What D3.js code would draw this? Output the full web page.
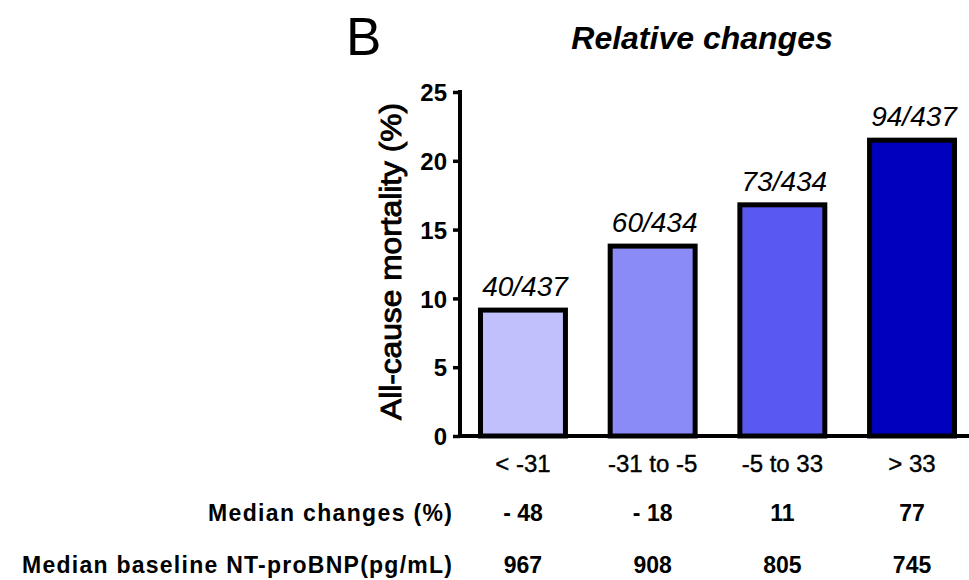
<!DOCTYPE html>
<html>
<head>
<meta charset="utf-8">
<script src="https://cdn.jsdelivr.net/npm/d3@7"></script>
<style>
  body { margin: 0; background: #fff; }
  svg { font-family: "Liberation Sans", Arial, sans-serif; }
</style>
</head>
<body>
<div id="chart"></div>
<script>
const categories = ["< -31", "-31 to -5", "-5 to 33", "> 33"];
const mortality = [9.15, 13.8, 16.8, 21.5];
const counts = ["40/437", "60/434", "73/434", "94/437"];
const medianChanges = ["- 48", "- 18", "11", "77"];
const medianBaseline = ["967", "908", "805", "745"];
const barColors = ["#c0c0fc", "#8b8bf8", "#5959f2", "#0000bd"];
const yTicks = [0, 5, 10, 15, 20, 25];

const W = 969, H = 580;
const svg = d3.select("#chart").append("svg")
  .attr("width", W).attr("height", H);

const x = d3.scaleBand()
  .domain(categories)
  .range([460, 975])
  .paddingInner(0.345)
  .paddingOuter(0.158);

const y = d3.scaleLinear().domain([0, 25]).range([436, 92]);

// panel letter + title
svg.append("text").attr("x", 346).attr("y", 55)
  .style("font-size", "53px").text("B");
svg.append("text").attr("x", 702).attr("y", 49)
  .attr("text-anchor", "middle")
  .style("font-size", "32px").style("font-weight", "bold").style("font-style", "italic")
  .text("Relative changes");

// bars
svg.append("g").selectAll("rect")
  .data(mortality)
  .join("rect")
  .attr("x", (d, i) => x(categories[i]))
  .attr("y", d => y(d))
  .attr("width", x.bandwidth())
  .attr("height", d => y(0) - y(d))
  .attr("fill", (d, i) => barColors[i])
  .attr("stroke", "#000")
  .attr("stroke-width", 5);

// count labels
svg.append("g").selectAll("text")
  .data(mortality)
  .join("text")
  .attr("x", (d, i) => x(categories[i]) + x.bandwidth() / 2 + 2)
  .attr("y", d => y(d) - 14)
  .attr("text-anchor", "middle")
  .style("font-size", "28px").style("font-style", "italic")
  .text((d, i) => counts[i]);

// y axis
const yAxis = svg.append("g")
  .attr("transform", "translate(460,0)")
  .call(d3.axisLeft(y).tickValues(yTicks).tickSize(7).tickSizeOuter(0).tickPadding(6));
yAxis.select(".domain").attr("stroke-width", 4).attr("d", `M0,${y(25) - 2}V${y(0) + 2}`);
yAxis.selectAll(".tick line").attr("stroke-width", 3.5);
yAxis.selectAll(".tick text")
  .style("font-size", "24px").style("font-weight", "bold")
  .style("font-family", "Liberation Sans, Arial, sans-serif")
  .attr("dy", "0.36em");

// x axis line
svg.append("line")
  .attr("x1", 458).attr("x2", 969)
  .attr("y1", y(0)).attr("y2", y(0))
  .attr("stroke", "#000").attr("stroke-width", 4);

// y axis title
svg.append("text")
  .attr("transform", `translate(401,${(103 + 420) / 2}) rotate(-90)`)
  .attr("text-anchor", "middle")
  .attr("textLength", 317).attr("lengthAdjust", "spacingAndGlyphs")
  .style("font-size", "29px")
  .attr("stroke", "#000").attr("stroke-width", 0.9)
  .text("All-cause mortality (%)");

// category labels
svg.append("g").selectAll("text")
  .data(categories)
  .join("text")
  .attr("x", d => x(d) + x.bandwidth() / 2)
  .attr("y", 472)
  .attr("text-anchor", "middle")
  .attr("stroke", "#000").attr("stroke-width", 0.4)
  .style("font-size", "24px")
  .text(d => d);

// table rows
const rows = [
  { label: "Median changes (%)", vals: medianChanges, y: 521, len: 244 },
  { label: "Median baseline NT-proBNP(pg/mL)", vals: medianBaseline, y: 573, len: 430 }
];
rows.forEach(r => {
  svg.append("text")
    .attr("x", 452).attr("y", r.y)
    .attr("text-anchor", "end")
    .attr("textLength", r.len).attr("lengthAdjust", "spacing")
    .style("font-size", "23px").style("font-weight", "bold")
    .text(r.label);
  svg.append("g").selectAll("text")
    .data(r.vals)
    .join("text")
    .attr("x", (d, i) => x(categories[i]) + x.bandwidth() / 2)
    .attr("y", r.y)
    .attr("text-anchor", "middle")
    .style("font-size", "23px").style("font-weight", "bold")
    .text(d => d);
});
</script>
</body>
</html>
